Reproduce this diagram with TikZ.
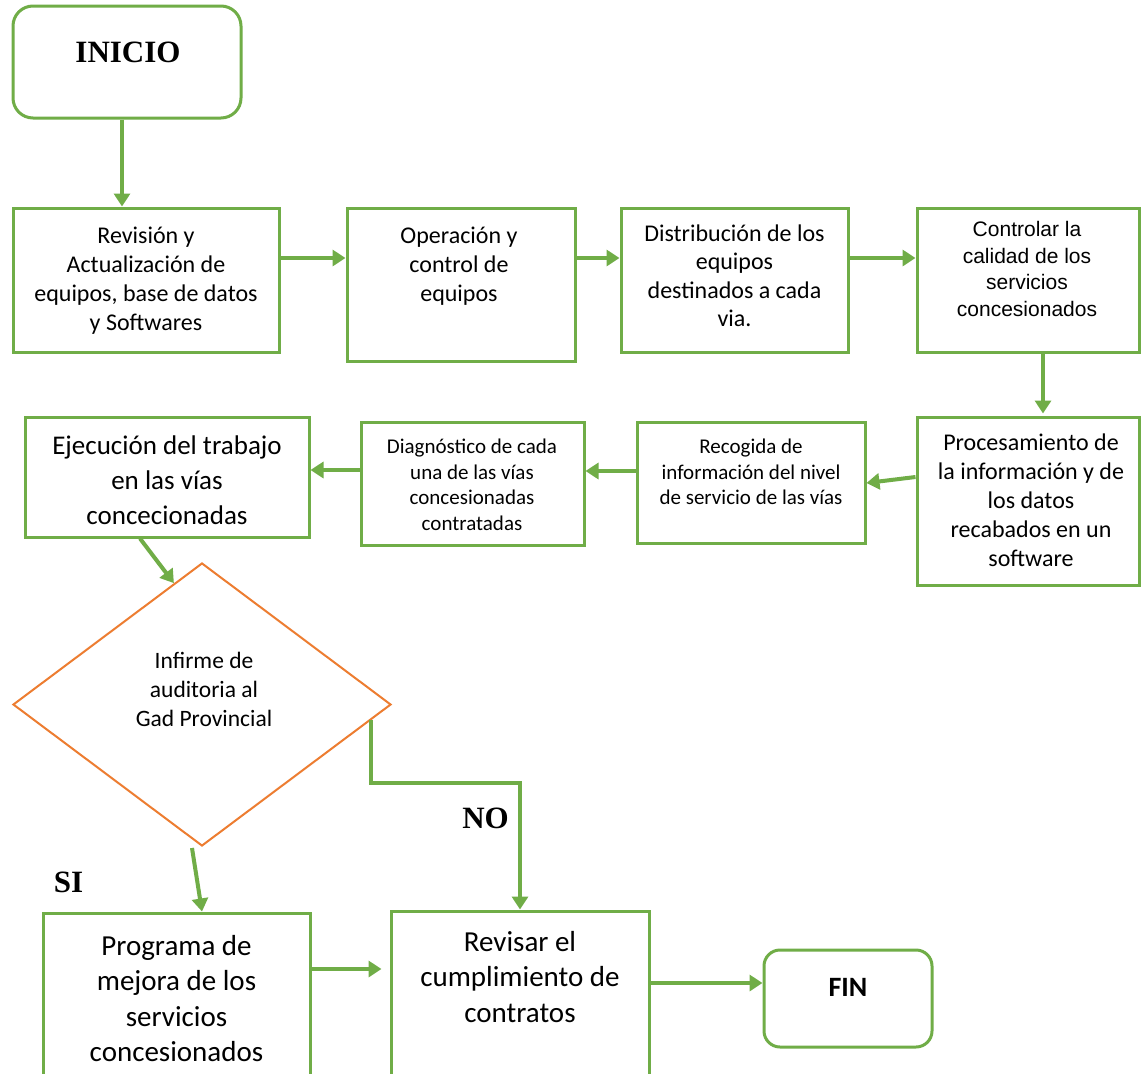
\documentclass[tikz,border=0pt]{standalone}
\usepackage{fontspec}
\setmainfont{Carlito}
\newfontfamily\arialf{Liberation Sans}
\newfontfamily\tnrf{Liberation Serif}
\usetikzlibrary{arrows.meta,shapes.geometric,calc}
\definecolor{grn}{RGB}{112,173,71}
\definecolor{org}{RGB}{237,125,49}
\tikzset{
  box/.style={draw=grn, line width=3pt, inner sep=0pt, fill=none},
  rbox/.style={box, rounded corners=20pt},
  arr/.style={draw=grn, line width=4pt, -{Triangle[length=13pt,width=16pt]}},
  txt/.style={align=center, inner sep=0pt, text=black},
  f24/.style={txt, font=\fontsize{24}{29}\selectfont},
  f21/.style={txt, font=\fontsize{21}{25.5}\selectfont},
  fa21/.style={txt, font=\arialf\fontsize{21}{26.5}\selectfont},
  f27/.style={txt, font=\fontsize{27}{35}\selectfont},
  f29/.style={txt, font=\fontsize{29}{35.5}\selectfont},
  bold31/.style={txt, font=\tnrf\bfseries\fontsize{31}{36}\selectfont},
}
\begin{document}
\begin{tikzpicture}[x=1pt,y=-1pt]
\useasboundingbox (0,0) rectangle (1141,1074);
\fill[white] (0,0) rectangle (1141,1074);

% boxes
\node[rbox, minimum width=228pt, minimum height=112pt] (ini) at (127,62) {};
\node[bold31] (tini) at (128,52) {INICIO};

\node[box, minimum width=266pt, minimum height=144pt] (b1) at (146,280) {};
\node[f24] (t1) at (146,281) {Revisión y\\Actualización de\\equipos, base de datos\\y Softwares};

\node[box, minimum width=228pt, minimum height=153pt] (b2) at (461,284.5) {};
\node[f24] (t2) at (459,266) {Operación y\\control de\\equipos};

\node[box, minimum width=227pt, minimum height=144pt] (b3) at (734.5,280) {};
\node[txt, font=\fontsize{24}{28.5}\selectfont] (t3) at (734.5,276) {Distribución de los\\equipos\\destinados a cada\\via.};

\node[box, minimum width=222pt, minimum height=144pt] (b4) at (1028,280) {};
\node[fa21] (t4) at (1027,269) {Controlar la\\calidad de los\\servicios\\concesionados};

\node[box, minimum width=222pt, minimum height=168pt] (b5) at (1028,501) {};
\node[f24] (t5) at (1031,500) {Procesamiento de\\la información y de\\los datos\\recabados en un\\software};

\node[box, minimum width=228pt, minimum height=121pt] (b6) at (751,482.5) {};
\node[f21] (t6) at (751,472) {Recogida de\\información del nivel\\de servicio de las vías};

\node[box, minimum width=223pt, minimum height=123pt] (b7) at (472.5,483.5) {};
\node[f21] (t7) at (472,485) {Diagnóstico de cada\\una de las vías\\concesionadas\\contratadas};

\node[box, minimum width=284pt, minimum height=120pt] (b8) at (167,477) {};
\node[f27] (t8) at (167,480) {Ejecución del trabajo\\en las vías\\concecionadas};

\node[diamond, draw=org, line width=2pt, inner sep=0pt, minimum width=378pt, minimum height=283pt] (dia) at (202,704.5) {};
\node[txt, font=\fontsize{23.5}{29}\selectfont] (tdia) at (204,689) {Infirme de\\auditoria al\\Gad Provincial};

\node[box, minimum width=267pt, minimum height=187pt] (pg) at (176.5,1006.5) {};
\node[f29] (tpg) at (176.5,998.5) {Programa de\\mejora de los\\servicios\\concesionados};

\node[box, minimum width=258pt, minimum height=189pt] (rv) at (520,1005.5) {};
\node[f29] (trv) at (520,977) {Revisar el\\cumplimiento de\\contratos};

\node[box, rounded corners=16pt, minimum width=168pt, minimum height=97pt] (fin) at (848,998.5) {};
\node[txt, font=\bfseries\fontsize{28}{32}\selectfont] (tfin) at (848,987) {FIN};

\node[bold31] (lsi) at (68.5,882) {SI};
\node[bold31] (lno) at (485.5,818) {NO};

% connectors
\draw[arr] ([xshift=-5pt]ini.south) -- ([xshift=-24pt]b1.north);
\draw[arr] ([yshift=22pt]b1.east) -- ([yshift=26.5pt]b2.west);
\draw[arr] ([yshift=26.5pt]b2.east) -- ([yshift=22pt]b3.west);
\draw[arr] ([yshift=22pt]b3.east) -- ([yshift=22pt]b4.west);
\draw[arr] ([xshift=15pt]b4.south) -- ([xshift=15pt,yshift=2pt]b5.north);
\draw[arr] ([yshift=24pt]b5.west) -- ([yshift=-0.5pt]b6.east);
\draw[arr] ([yshift=11.5pt]b6.west) -- ([yshift=12.5pt]b7.east);
\draw[arr] ([yshift=13.5pt]b7.west) -- ([yshift=7pt]b8.east);
\draw[arr] ([xshift=-27pt]b8.south) -- ($(dia.north)!0.148!(dia.west)$);
\draw[arr] ([xshift=-10pt,yshift=-1pt]dia.south) -- ([xshift=25.5pt]pg.north);
\coordinate (nostart) at ($(dia.east)!0.111!(dia.south)$);
\coordinate (nobend) at (520,783);
\draw[arr] (nostart) |- (nobend) -- (nobend |- rv.north);
\draw[arr, shorten >=8pt] ([yshift=37.5pt]pg.east) -- ([yshift=36.5pt]rv.west);
\draw[arr] ([yshift=22.5pt]rv.east) -- ([yshift=15.5pt]fin.west);
\end{tikzpicture}
\end{document}
